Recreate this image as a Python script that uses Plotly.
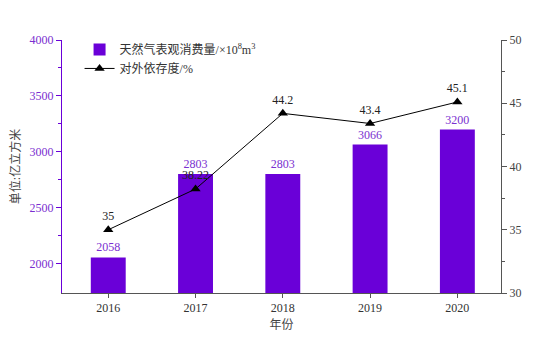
import plotly.graph_objects as go

years = [2016, 2017, 2018, 2019, 2020]
consumption = [2058, 2803, 2803, 3066, 3200]
dependence = [35, 38.22, 44.2, 43.4, 45.1]
dep_labels = ["35", "38.22", "44.2", "43.4", "45.1"]

PURPLE = "#6a00d8"
TEXT_PURPLE = "#7a2fd0"
GRAY = "#555555"
FONT = "Liberation Serif, Noto Sans CJK SC, serif"

fig = go.Figure()
fig.add_trace(go.Bar(
    x=years, y=consumption, width=0.4,
    marker=dict(color=PURPLE, line=dict(width=0)),
    name="天然气表观消费量/×10<sup>8</sup>m<sup>3</sup>",
    text=[str(v) for v in consumption], textposition="outside",
    textfont=dict(color=TEXT_PURPLE, size=12, family=FONT),
    cliponaxis=False,
))
fig.add_trace(go.Scatter(
    x=years, y=dependence, yaxis="y2", mode="lines+markers+text",
    line=dict(color="black", width=1),
    marker=dict(symbol="triangle-up", size=9, color="black"),
    name="对外依存度/%",
    text=dep_labels, textposition="top center",
    textfont=dict(color="#222222", size=12, family=FONT),
    cliponaxis=False,
))

fig.update_layout(
    width=550, height=342,
    margin=dict(l=62, r=49, t=40, b=49),
    paper_bgcolor="white", plot_bgcolor="white",
    font=dict(family=FONT, size=12, color="#333333"),
    showlegend=True,
    legend=dict(x=0.04, y=1.02, xanchor="left", yanchor="top",
                bgcolor="rgba(0,0,0,0)", font=dict(size=12, color="#333333"),
                tracegroupgap=2),
    xaxis=dict(range=[2015.47, 2020.5], tickvals=years, ticktext=[str(y) for y in years],
               showline=True, linecolor=GRAY, linewidth=1, ticks="outside",
               tickcolor=GRAY, ticklen=4, showgrid=False, zeroline=False,
               title=dict(text="年份", font=dict(size=12, color="#444444"), standoff=6),
               tickfont=dict(size=12, color="#333333")),
    yaxis=dict(range=[1740, 4000], tickvals=[2000, 2500, 3000, 3500, 4000],
               showline=True, linecolor=PURPLE, linewidth=1, ticks="outside",
               tickcolor=PURPLE, ticklen=5, showgrid=False, zeroline=False,
               minor=dict(tickvals=[2250, 2750, 3250, 3750], ticks="outside", ticklen=3, tickcolor=PURPLE),
               tickfont=dict(size=12, color=TEXT_PURPLE),
               title=dict(text="单位:亿立方米", font=dict(size=12, color="#444444"), standoff=6)),
    yaxis2=dict(range=[30, 50], overlaying="y", side="right",
                tickvals=[30, 35, 40, 45, 50],
                showline=True, linecolor=GRAY, linewidth=1, ticks="outside",
                tickcolor=GRAY, ticklen=5, showgrid=False, zeroline=False,
                minor=dict(tickvals=[32.5, 37.5, 42.5, 47.5], ticks="outside", ticklen=3, tickcolor=GRAY),
                tickfont=dict(size=12, color="#444444")),
)

fig.write_html("out.html")
